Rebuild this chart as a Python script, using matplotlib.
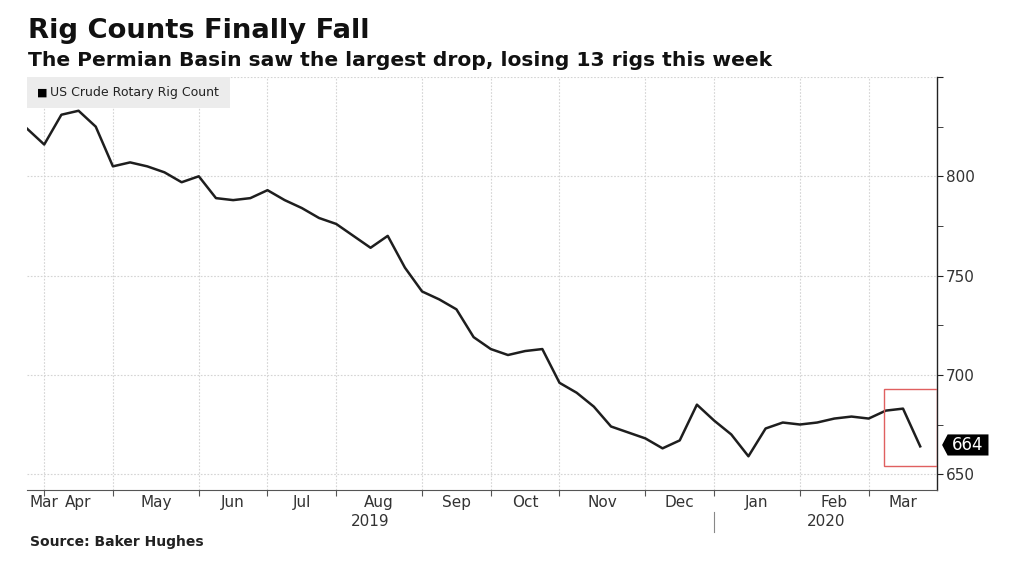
import numpy as np
import pandas as pd
import matplotlib
matplotlib.use("Agg")
import matplotlib.pyplot as plt
from matplotlib.patches import Rectangle, Polygon
import matplotlib.transforms as mtransforms

# Weekly US crude rotary rig count (Baker Hughes), Mar 2019 - Mar 2020
dates = pd.to_datetime([
    "2019-03-22", "2019-03-29", "2019-04-05", "2019-04-12", "2019-04-19", "2019-04-26",
    "2019-05-03", "2019-05-10", "2019-05-17", "2019-05-24", "2019-05-31",
    "2019-06-07", "2019-06-14", "2019-06-21", "2019-06-28",
    "2019-07-05", "2019-07-12", "2019-07-19", "2019-07-26",
    "2019-08-02", "2019-08-09", "2019-08-16", "2019-08-23", "2019-08-30",
    "2019-09-06", "2019-09-13", "2019-09-20", "2019-09-27",
    "2019-10-04", "2019-10-11", "2019-10-18", "2019-10-25",
    "2019-11-01", "2019-11-08", "2019-11-15", "2019-11-22", "2019-11-27",
    "2019-12-06", "2019-12-13", "2019-12-20", "2019-12-27",
    "2020-01-03", "2020-01-10", "2020-01-17", "2020-01-24", "2020-01-31",
    "2020-02-07", "2020-02-14", "2020-02-21", "2020-02-28",
    "2020-03-06", "2020-03-13", "2020-03-20",
])
rigs = [
    824, 816, 831, 833, 825, 805,
    807, 805, 802, 797, 800,
    789, 788, 789, 793,
    788, 784, 779, 776,
    770, 764, 770, 754, 742,
    738, 733, 719, 713,
    710, 712, 713, 696,
    691, 684, 674, 671, 668,
    663, 667, 685, 677,
    670, 659, 673, 676, 675,
    676, 678, 679, 678,
    682, 683, 664,
]
series_name = "US Crude Rotary Rig Count"
y_ticks = [650, 700, 750, 800]
highlight_lo, highlight_hi = 654, 693

x = np.arange(len(rigs))

fig = plt.figure(figsize=(10.24, 5.82), dpi=100)
ax = fig.add_axes([0.0264, 0.158, 0.889, 0.7097])

ax.plot(x, rigs, color="#1e1e1e", lw=1.8, zorder=3)
ax.set_xlim(0, len(rigs))
ax.set_ylim(642, 850)

# month boundaries: last week of each month
bounds = [i for i in range(len(dates) - 1) if dates[i].month != dates[i + 1].month]
edges = [0] + bounds + [len(rigs)]
ax.set_xticks(bounds)
ax.set_xticklabels([])
ax.tick_params(axis="x", which="major", length=4, color="#555555", direction="out")

trans = mtransforms.blended_transform_factory(ax.transData, ax.transAxes)
month_starts = [0] + [b + 1 for b in bounds]
for k, s in enumerate(month_starts):
    name = dates[s].strftime("%b")
    if k == 0:
        ax.text(edges[0] + 0.15, -0.013, name, transform=trans, ha="left", va="top",
                fontsize=11, color="#333333")
    else:
        mid = (edges[k] + edges[k + 1]) / 2
        ax.text(mid, -0.013, name, transform=trans, ha="center", va="top",
                fontsize=11, color="#333333")

# year labels and separator
year_break = [b for b in bounds if dates[b].year != dates[b + 1].year][0]
ax.text(year_break / 2, -0.058, "2019", transform=trans, ha="center", va="top",
        fontsize=11, color="#333333")
ax.text((year_break + len(rigs)) / 2, -0.058, "2020", transform=trans, ha="center",
        va="top", fontsize=11, color="#333333")
ax.plot([year_break, year_break], [-0.053, -0.102], transform=trans, color="#888888",
        lw=0.8, clip_on=False)

# y axis on the right
ax.yaxis.tick_right()
ax.set_yticks(y_ticks + [850])
ax.set_yticklabels([str(v) for v in y_ticks] + [""])
ax.set_yticks([675, 725, 775, 825], minor=True)
ax.tick_params(axis="y", which="both", length=4, color="#222222", labelsize=11,
               labelcolor="#333333", pad=2)

ax.grid(True, which="major", color="#d4d4d4", linestyle=(0, (1.5, 1.5)), lw=0.8)
ax.grid(False, which="minor")
for side in ["left", "top"]:
    ax.spines[side].set_visible(False)
ax.spines["bottom"].set_color("#555555")
ax.spines["right"].set_color("#222222")
ax.spines["right"].set_linewidth(1.0)

# legend box
ax.add_patch(Rectangle((0, 0.925), 0.223, 0.075, transform=ax.transAxes,
                       facecolor="#ececec", edgecolor="none", zorder=2))
ax.text(0.011, 0.962, "\u25A0", transform=ax.transAxes, fontsize=8, va="center",
        ha="left", color="black", zorder=4)
ax.text(0.025, 0.962, series_name, transform=ax.transAxes, fontsize=9, va="center",
        ha="left", color="#222222", zorder=4)

# highlight on last weeks
ax.add_patch(Rectangle((len(rigs) - 3.1, highlight_lo), 3.1, highlight_hi - highlight_lo,
                       facecolor="none", edgecolor="#e06060", lw=1.0, zorder=4))

# last value tag (shape in points, anchored at right spine / last value)
anchor = mtransforms.blended_transform_factory(ax.transAxes, ax.transData)
tag_tr = (mtransforms.Affine2D().scale(fig.dpi / 72.0)
          + mtransforms.ScaledTranslation(1.0, rigs[-1], anchor))
tag = Polygon([(3.4, 1.0), (7.4, 8.6), (36.8, 8.6), (36.8, -6.6), (7.4, -6.6)],
              closed=True, facecolor="black", edgecolor="none", transform=tag_tr,
              clip_on=False, zorder=5)
ax.add_patch(tag)
ax.annotate(str(rigs[-1]), xy=(1.0, rigs[-1]), xycoords=anchor,
            xytext=(22, 1), textcoords="offset points", ha="center", va="center",
            fontsize=12, color="white", zorder=6)

fig.text(0.027, 0.935, "Rig Counts Finally Fall", fontsize=19.7, fontweight="bold",
         ha="left", va="baseline", color="#111111")
fig.text(0.027, 0.8866, "The Permian Basin saw the largest drop, losing 13 rigs this week",
         fontsize=14.6, fontweight="bold", ha="left", va="baseline", color="#111111")
fig.text(0.029, 0.062, "Source: Baker Hughes", fontsize=10, fontweight="bold",
         ha="left", va="baseline", color="#222222")

fig.savefig("out.png", dpi=100, facecolor="white")
